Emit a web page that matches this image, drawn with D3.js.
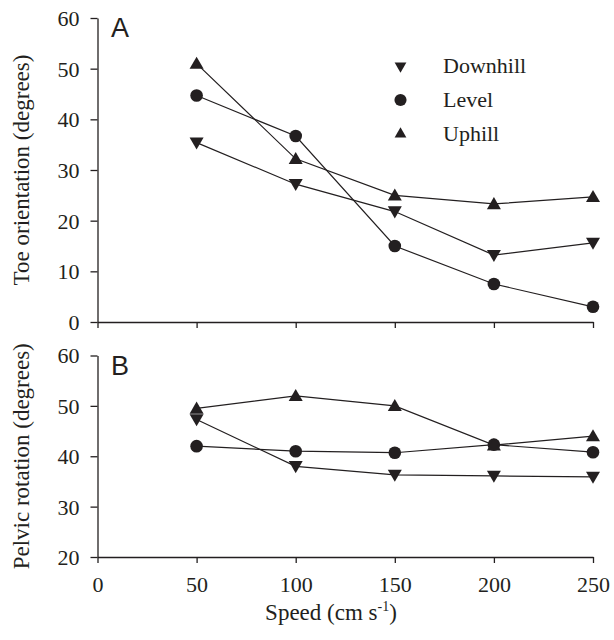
<!DOCTYPE html>
<html>
<head>
<meta charset="utf-8">
<script src="https://cdn.jsdelivr.net/npm/d3@7"></script>
<style>
  body { margin: 0; background: #fff; }
</style>
</head>
<body>
<svg width="614" height="640" font-family="serif">
  <style>
    text { font-family: "Liberation Serif", serif; }
    text.letter { font-family: "Liberation Sans", sans-serif; }
  </style>
</svg>
<script>
(function(d3) {
  "use strict";

  const speeds = [50, 100, 150, 200, 250];
  const seriesNames = ["Downhill", "Level", "Uphill"];

  // panel A: toe orientation (degrees)
  const toeDownhill = [35.4, 27.2, 21.8, 13.2, 15.6];
  const toeLevel = [44.7, 36.7, 15.0, 7.5, 3.0];
  const toeUphill = [51.0, 32.2, 25.0, 23.3, 24.7];

  // panel B: pelvic rotation (degrees)
  const pelvicDownhill = [47.3, 38.0, 36.3, 36.1, 35.9];
  const pelvicLevel = [42.0, 41.0, 40.7, 42.3, 40.8];
  const pelvicUphill = [49.5, 52.0, 50.0, 42.2, 44.0];

  const xTicks = [0, 50, 100, 150, 200, 250];
  const toeTicks = [0, 10, 20, 30, 40, 50, 60];
  const pelvicTicks = [20, 30, 40, 50, 60];

  const svg = d3.select("svg");
  const ink = "#231f20";
  const serif = "serif";
  const sans = "sans-serif";

  const left = 97.5, right = 593;
  const xScale = d3.scaleLinear().domain([0, 250]).range([left, right]);

  const symbolFor = {
    Downhill: { type: d3.symbolTriangle, rotate: 180, size: 85, legend: 60 },
    Level: { type: d3.symbolCircle, rotate: 0, size: 125, legend: 115 },
    Uphill: { type: d3.symbolTriangle, rotate: 0, size: 85, legend: 60 }
  };

  const drawPanel = (opts) => {
    const yScale = d3.scaleLinear().domain(opts.domain).range([opts.bottom, opts.top]);

    const yAxis = d3.axisLeft(yScale)
      .tickValues(opts.ticks)
      .tickSize(7)
      .tickSizeOuter(0)
      .tickPadding(11);
    const yAxisG = svg.append("g")
      .attr("transform", `translate(${left},0)`)
      .call(yAxis)
      .attr("font-family", serif)
      .attr("font-size", 22);
    yAxisG.selectAll("text").attr("fill", ink).attr("dy", "0.34em");
    yAxisG.selectAll("line, path").attr("stroke", ink).attr("stroke-width", 1.3);

    const xAxis = d3.axisBottom(xScale)
      .tickValues(xTicks)
      .tickSize(6)
      .tickSizeOuter(0)
      .tickPadding(13)
      .tickFormat(opts.xLabels ? d3.format("d") : "");
    const xAxisG = svg.append("g")
      .attr("transform", `translate(0,${opts.bottom})`)
      .call(xAxis)
      .attr("font-family", serif)
      .attr("font-size", 22);
    xAxisG.selectAll("text").attr("fill", ink);
    xAxisG.selectAll("line, path").attr("stroke", ink).attr("stroke-width", 1.3);

    // y title
    svg.append("text")
      .attr("transform", `translate(29,${(opts.top + opts.bottom) / 2}) rotate(-90)`)
      .attr("text-anchor", "middle")
      .attr("font-family", serif)
      .attr("font-size", 23)
      .attr("fill", ink)
      .text(opts.yTitle);

    // panel letter
    svg.append("text")
      .attr("class", "letter")
      .attr("x", 111)
      .attr("y", opts.top + 19)
      .attr("font-family", sans)
      .attr("font-size", 27)
      .attr("fill", ink)
      .text(opts.letter);

    const line = d3.line()
      .x((d, i) => xScale(speeds[i]))
      .y(d => yScale(d));

    opts.series.forEach(vals => {
      svg.append("path")
        .attr("d", line(vals))
        .attr("fill", "none")
        .attr("stroke", ink)
        .attr("stroke-width", 1.2);
    });

    opts.series.forEach((vals, k) => {
      const sym = symbolFor[seriesNames[k]];
      const off = sym.rotate ? -1.2 : (sym.type === d3.symbolTriangle ? 1.2 : 0);
      svg.append("g").selectAll("path")
        .data(vals)
        .enter()
        .append("path")
        .attr("d", d3.symbol().type(sym.type).size(sym.size))
        .attr("transform", (d, i) =>
          `translate(${xScale(speeds[i])},${yScale(d) + off}) rotate(${sym.rotate})`)
        .attr("fill", ink);
    });
  };

  drawPanel({
    top: 18, bottom: 322, domain: [0, 60], ticks: toeTicks,
    series: [toeDownhill, toeLevel, toeUphill],
    yTitle: "Toe orientation (degrees)", letter: "A", xLabels: false
  });

  drawPanel({
    top: 355.5, bottom: 557, domain: [20, 60], ticks: pelvicTicks,
    series: [pelvicDownhill, pelvicLevel, pelvicUphill],
    yTitle: "Pelvic rotation (degrees)", letter: "B", xLabels: true
  });

  // x title
  const xt = svg.append("text")
    .attr("x", 331)
    .attr("y", 620)
    .attr("text-anchor", "middle")
    .attr("font-family", serif)
    .attr("font-size", 23)
    .attr("fill", ink);
  xt.append("tspan").text("Speed (cm s");
  xt.append("tspan").attr("dy", -9).attr("font-size", 14).text("-1");
  xt.append("tspan").attr("dy", 9).text(")");

  // legend
  const legend = svg.append("g");
  seriesNames.forEach((name, k) => {
    const y = 66 + k * 34;
    const sym = symbolFor[name];
    legend.append("path")
      .attr("d", d3.symbol().type(sym.type).size(sym.legend))
      .attr("transform", `translate(400.5,${y}) rotate(${sym.rotate})`)
      .attr("fill", ink);
    legend.append("text")
      .attr("x", 443)
      .attr("y", y + 7)
      .attr("font-family", serif)
      .attr("font-size", 22)
      .attr("fill", ink)
      .text(name);
  });
})(d3);
</script>
</body>
</html>
